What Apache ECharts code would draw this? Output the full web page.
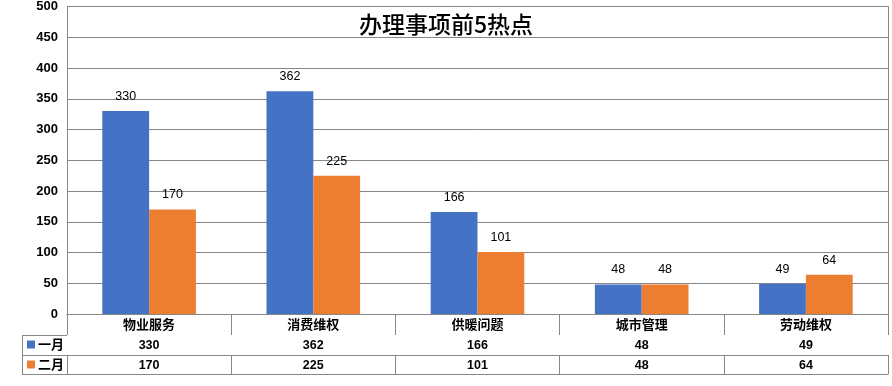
<!DOCTYPE html>
<html><head><meta charset="utf-8">
<script src="https://cdn.jsdelivr.net/npm/echarts@6/dist/echarts.min.js"></script>
<style>html,body{margin:0;padding:0;background:#fff}#c{width:892px;height:386px}</style>
</head><body><div id="c"></div>
<script>
const title = '办理事项前5热点';
const categories = ['物业服务', '消费维权', '供暖问题', '城市管理', '劳动维权'];
const seriesNames = ['一月', '二月'];
const janValues = [330, 362, 166, 48, 49];
const febValues = [170, 225, 101, 48, 64];
const yTicks = { min: 0, max: 500, interval: 50 };

const chart = echarts.init(document.getElementById('c'));
const LINE = '#878787';
const numFont = '"Liberation Sans", Arial, sans-serif';
const cjkFont = '"Noto Sans CJK SC", sans-serif';
const G = { left: 67, right: 4, top: 6, bottom: 72 };
const rowH = [21, 20, 19];

function tableAxis(offset, tickLen, labels, labelFont, showLabel) {
  return {
    type: 'category', data: categories, gridIndex: 0, position: 'bottom', offset: offset,
    axisLine: { show: true, lineStyle: { color: LINE, width: 1 } },
    axisTick: { show: tickLen > 0, alignWithLabel: false, length: tickLen, lineStyle: { color: LINE, width: 1 } },
    axisLabel: {
      show: showLabel, interval: 0, margin: 4, color: '#000', fontWeight: 'bold',
      fontSize: labelFont.size, fontFamily: labelFont.family,
      formatter: function (v, i) { return labels ? String(labels[i]) : v; }
    },
    splitLine: { show: false }
  };
}

chart.setOption({
  animation: false,
  title: { text: title, left: 'center', top: 8, textStyle: { fontFamily: cjkFont, fontSize: 23, fontWeight: 500, color: '#000' } },
  legend: {
    orient: 'vertical', left: 27, top: 338, padding: 0, itemWidth: 8, itemHeight: 8, itemGap: 7, icon: 'rect',
    textStyle: { fontFamily: cjkFont, fontSize: 13, fontWeight: 'bold', color: '#000', padding: [0, 0, 0, -2] },
    data: seriesNames
  },
  grid: G,
  xAxis: [
    tableAxis(0, rowH[0], null, { size: 13, family: cjkFont }, true),
    tableAxis(rowH[0], rowH[1], janValues, { size: 12.5, family: numFont }, true),
    tableAxis(rowH[0] + rowH[1], rowH[2], febValues, { size: 12.5, family: numFont }, true),
    tableAxis(rowH[0] + rowH[1] + rowH[2], 0, null, { size: 12, family: numFont }, false)
  ],
  yAxis: [{
    type: 'value', min: yTicks.min, max: yTicks.max, interval: yTicks.interval,
    axisLine: { show: true, lineStyle: { color: LINE } },
    axisTick: { show: false },
    axisLabel: { color: '#000', fontWeight: 'bold', fontSize: 13, fontFamily: numFont, margin: 9 },
    splitLine: { lineStyle: { color: LINE, width: 1 } }
  }, {
    type: 'value', position: 'right', min: yTicks.min, max: yTicks.max, interval: yTicks.interval,
    axisLine: { show: true, lineStyle: { color: LINE } },
    axisTick: { show: false }, axisLabel: { show: false }, splitLine: { show: false }
  }],
  series: [
    { name: seriesNames[0], type: 'bar', data: janValues, barGap: '0%', barCategoryGap: '43%',
      itemStyle: { color: '#4472C4' },
      label: { show: true, position: 'top', distance: 8, color: '#000', fontSize: 12.5, fontFamily: numFont } },
    { name: seriesNames[1], type: 'bar', data: febValues, barGap: '0%', barCategoryGap: '43%',
      itemStyle: { color: '#ED7D31' },
      label: { show: true, position: 'top', distance: 8, color: '#000', fontSize: 12.5, fontFamily: numFont } }
  ]
});

// legend cell borders left of the table
const plotBottom = 386 - G.bottom;
const y1 = plotBottom + rowH[0], y2 = y1 + rowH[1], y3 = y2 + rowH[2];
const x0 = 22, x1 = G.left;
const ls = { stroke: LINE, lineWidth: 1 };
chart.setOption({
  graphic: [
    { type: 'line', shape: { x1: x0, y1: y1 + 0.5, x2: x1, y2: y1 + 0.5 }, style: ls, silent: true },
    { type: 'line', shape: { x1: x0, y1: y2 + 0.5, x2: x1, y2: y2 + 0.5 }, style: ls, silent: true },
    { type: 'line', shape: { x1: x0, y1: y3 + 0.5, x2: x1, y2: y3 + 0.5 }, style: ls, silent: true },
    { type: 'line', shape: { x1: x0 + 0.5, y1: y1, x2: x0 + 0.5, y2: y3 + 1 }, style: ls, silent: true }
  ]
});
</script></body></html>
